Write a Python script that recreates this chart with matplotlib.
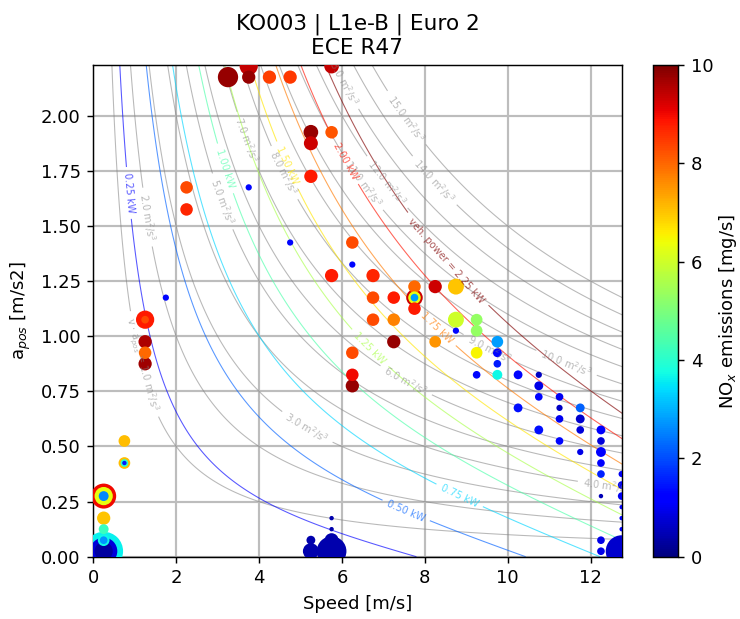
import numpy as np
import matplotlib
matplotlib.use('Agg')
import matplotlib.pyplot as plt

# binned measurement points: speed [m/s], positive acceleration [m/s2],
# NOx emission rate [mg/s] and number of samples in the bin
speed = [3.25, 3.75, 3.75, 4.25, 4.75, 5.75, 2.25, 2.25, 3.75, 4.75, 1.75,
         5.25, 5.75, 5.25, 5.25, 6.25, 6.25, 5.75, 6.75, 7.75, 8.25, 8.75,
         7.75, 7.75, 7.75, 6.75, 7.25, 7.75, 6.75, 7.25, 7.25, 8.25, 8.75,
         8.75, 9.25, 9.25, 9.25, 9.25, 6.25, 6.25, 6.25,
         5.25, 5.25, 5.75, 5.75, 5.75, 5.75,
         9.75, 9.75, 9.75, 9.75, 10.25, 10.75, 10.75, 10.75, 10.25, 10.75,
         11.25, 11.25, 11.25, 11.25, 11.75, 11.75, 11.75, 11.75,
         12.25, 12.25, 12.25, 12.25, 12.25, 12.25, 12.25, 12.25,
         12.75, 12.75, 12.75, 12.75, 12.75, 12.75, 12.75,
         1.25, 1.25, 1.25, 1.25, 1.25,
         0.75, 0.75, 0.75, 0.75,
         0.25, 0.25, 0.25, 0.25, 0.25, 0.25, 0.25, 0.25, 0.25, 0.25]
a_pos = [2.175, 2.225, 2.175, 2.175, 2.175, 2.225, 1.675, 1.575, 1.675, 1.425, 1.175,
         1.925, 1.925, 1.875, 1.725, 1.425, 1.325, 1.275, 1.275, 1.225, 1.225, 1.225,
         1.175, 1.175, 1.175, 1.175, 1.175, 1.125, 1.075, 1.075, 0.975, 0.975, 1.075,
         1.025, 1.075, 1.025, 0.925, 0.825, 0.925, 0.825, 0.775,
         0.075, 0.025, 0.025, 0.075, 0.125, 0.175,
         0.975, 0.925, 0.875, 0.825, 0.825, 0.825, 0.775, 0.725, 0.675, 0.575,
         0.725, 0.675, 0.625, 0.525, 0.675, 0.625, 0.575, 0.475,
         0.575, 0.525, 0.475, 0.425, 0.375, 0.275, 0.075, 0.025,
         0.375, 0.325, 0.275, 0.225, 0.175, 0.125, 0.025,
         1.075, 1.075, 0.975, 0.925, 0.875,
         0.525, 0.425, 0.425, 0.425,
         0.275, 0.275, 0.275, 0.175, 0.125, 0.075, 0.075, 0.025, 0.025, 0.025]
nox = [9.8, 9.4, 9.8, 8.4, 8.5, 9.4, 8.3, 8.7, 1.3, 1.3, 1.3,
       9.8, 8.2, 9.3, 8.8, 8.3, 1.3, 8.8, 8.7, 8.0, 9.3, 7.0,
       9.3, 6.3, 2.8, 8.3, 8.8, 8.8, 8.3, 7.7, 9.8, 7.5, 6.0,
       1.3, 5.3, 5.3, 6.5, 1.3, 8.3, 9.0, 9.8,
       0.4, 0.4, 0.4, 0.4, 0.4, 0.4,
       2.8, 1.3, 1.5, 3.7, 1.3, 0.6, 0.9, 1.3, 1.4, 1.4,
       1.0, 0.6, 1.0, 1.3, 2.2, 0.7, 0.8, 0.9,
       1.2, 0.8, 1.1, 1.2, 1.6, 0.5, 0.9, 0.9,
       1.0, 1.0, 1.0, 1.0, 1.0, 1.0, 0.7,
       8.8, 8.3, 9.6, 8.0, 9.7,
       7.1, 7.1, 4.0, 1.5,
       9.0, 6.3, 2.6, 7.0, 4.2, 3.7, 2.7, 3.6, 0.8, 0.3]
n_samples = [21, 17, 9, 9, 9, 11, 8, 8, 2, 2, 2,
             11, 8, 10, 9, 8, 2, 9, 9, 8, 9, 13,
             14, 8, 3, 8, 8, 8, 8, 8, 9, 7, 13,
             2, 7, 7, 7, 3, 8, 8, 9,
             4, 13, 45, 10, 1, 1,
             7, 4, 3, 5, 4, 2, 4, 3, 4, 4,
             3, 2, 3, 3, 4, 4, 3, 2,
             4, 3, 5, 3, 3, 1, 3, 3,
             2, 3, 3, 1, 1, 1, 52,
             17, 3, 9, 8, 9,
             7, 7, 3, 1,
             32, 17, 5, 9, 5, 7, 3, 77, 38, 17]

va_levels = [1.0, 2.0, 3.0, 4.0, 5.0, 6.0, 7.0, 8.0, 9.0, 10.0,
             11.0, 12.0, 13.0, 14.0, 15.0]
power_levels = [0.25, 0.50, 0.75, 1.00, 1.25, 1.50, 1.75, 2.00, 2.25]

# simple vehicle model for the power iso-lines
mass = 170.0   # kg
f0 = 12.0      # N
f2 = 0.33      # N/(m/s)^2

speed = np.array(speed)
a_pos = np.array(a_pos)
nox = np.array(nox)
n_samples = np.array(n_samples)

fig = plt.figure(figsize=(740 / 130, 619 / 130), dpi=130)
ax = fig.add_axes([0.1261, 0.1006, 0.714, 0.7944])
cax = fig.add_axes([0.8825, 0.1006, 0.0342, 0.7944])

V, A = np.meshgrid(np.linspace(0.01, 13, 400), np.linspace(0, 2.3, 400))

# v * a iso-lines
cs1 = ax.contour(V, A, V * A, levels=va_levels, colors='grey',
                 linewidths=0.6, alpha=0.55, zorder=2)
fmt1 = {lv: '%.1f m$^2$/s$^3$' % lv for lv in va_levels}
fmt1[va_levels[0]] = r'v $\cdot$ a$_{pos}$ = %.1f m$^2$/s$^3$' % va_levels[0]
pos1 = [(1.15, 0.87), (1.3, 1.54), (5.17, 0.59), (12.4, 0.33), (3.1, 1.61),
        (7.55, 0.80), (3.7, 1.89), (4.7, 1.75), (9.55, 0.94), (11.4, 0.87),
        (6.5, 1.69), (7.1, 1.70), (6.0, 2.16), (8.2, 1.70), (7.55, 1.99)]
ax.clabel(cs1, fmt=fmt1, fontsize=5.5, inline=True, manual=pos1)

# vehicle power iso-lines
P = V * (mass * A + f0 + f2 * V ** 2) / 1000.0
pcolors = plt.cm.jet(np.arange(1, len(power_levels) + 1) / len(power_levels))
cs2 = ax.contour(V, A, P, levels=power_levels, colors=pcolors,
                 linewidths=0.6, alpha=0.65, zorder=2)
fmt2 = {lv: '%.2f kW' % lv for lv in power_levels}
fmt2[power_levels[-1]] = 'veh. power = %.2f kW' % power_levels[-1]
pos2 = [(0.87, 1.65), (7.55, 0.21), (8.87, 0.29), (3.17, 1.76), (6.7, 0.95),
        (4.74, 1.78), (8.3, 1.04), (6.06, 1.79), (8.5, 1.34)]
ax.clabel(cs2, fmt=fmt2, fontsize=5.5, inline=True, manual=pos2)

# scatter, big bins first so small ones stay visible
order = np.argsort(-n_samples, kind='stable')
sc = ax.scatter(speed[order], a_pos[order], c=nox[order], s=n_samples[order] * 6,
                cmap='jet', vmin=0, vmax=10, edgecolors='none', zorder=3)

ax.grid(True, color='#bdbdbd', linewidth=1.2)
ax.set_xlim(0, speed.max())
ax.set_ylim(0, 2.23)
ax.set_xlabel('Speed [m/s]')
ax.set_ylabel('a$_{pos}$ [m/s2]')
ax.set_title('KO003 | L1e-B | Euro 2\nECE R47', fontsize=12)

cb = fig.colorbar(sc, cax=cax)
cb.set_label('NO$_x$ emissions [mg/s]', labelpad=2)

fig.savefig('out.png', dpi=130)
